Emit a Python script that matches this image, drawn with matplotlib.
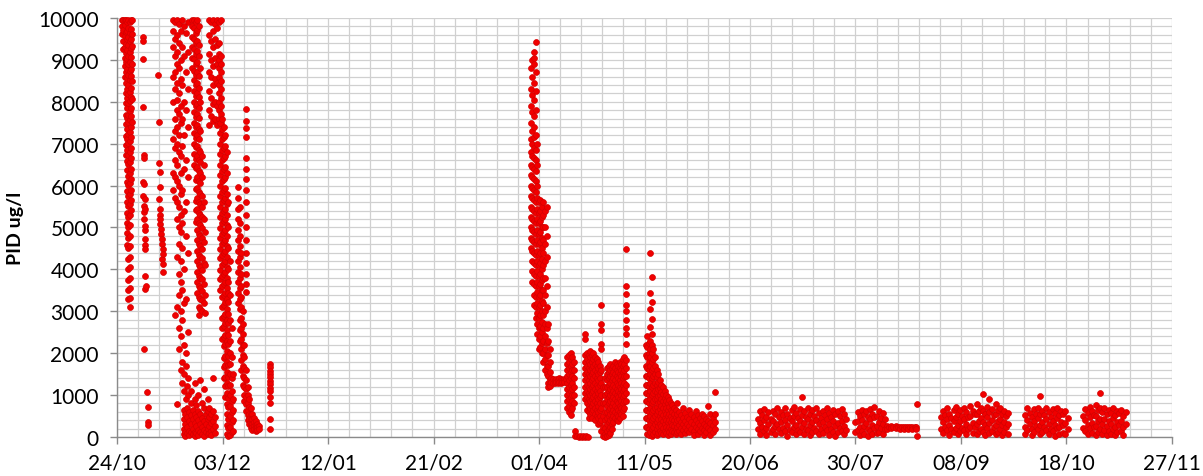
import datetime as dt

import matplotlib
matplotlib.use("Agg")
import matplotlib.pyplot as plt
import matplotlib.dates as mdates
from matplotlib.ticker import MultipleLocator, FuncFormatter

# ---------------------------------------------------------------------------
# PID readings (ug/l).  Each burst maps a day offset from the first
# monitoring day to the readings logged around that time.
# ---------------------------------------------------------------------------
START = dt.datetime(2011, 10, 24)
SPAN_DAYS = 400

burst_oct = {
    1.9: [9950, 9800, 9620],
    2.4: [9960, 9710, 9440, 9260],
    2.9: [9940, 9830, 9560, 9310, 9040, 8860, 8590],
    3.3: [9950, 9660, 9390, 9160, 8940, 8710, 8440, 8210, 7960, 7690, 7460, 7190, 6960, 6720],
    3.8: [9900, 9690, 9510, 9240, 9010, 8790, 8560, 8310, 8090, 7840, 7610, 7340, 7110, 6860,
          6590, 6360, 6090, 5860, 5610, 5340, 5110, 4860, 4590],
    4.3: [9950, 9760, 9540, 9360, 9090, 8910, 8640, 8410, 8190, 7960, 7690, 7510, 7240, 7010,
          6740, 6510, 6240, 6010, 5740, 5510, 5240, 5010, 4740, 4510, 4240, 4010, 3740, 3510, 3290],
    4.8: [9900, 9640, 9460, 9190, 8960, 8740, 8510, 8240, 8010, 7790, 7560, 7290, 7060, 6790,
          6560, 6290, 6060, 5790, 5560, 5290, 5060, 4790, 4560, 4290, 4060, 3790, 3560, 3310, 3100],
    5.3: [9950, 9740, 9510, 9290, 9060, 8790, 8610, 8340, 8110, 7840, 7660, 7390, 7160, 6890,
          6660, 6390, 6160, 5890, 5660, 5410],
    5.8: [9940, 9610, 9340, 8910, 8490, 8060, 7510],
}

burst_nov_sparse = {
    9.7: [9020, 6090],
    9.8: [9540, 5760],
    9.9: [9460, 7870],
    10.1: [6730, 6670, 5520, 5360],
    10.3: [6040, 5200, 2100],
    10.5: [5680, 5450, 4950, 4570],
    10.7: [5040, 4730, 4490, 3850, 3530],
    10.9: [3610],
    11.5: [1070],
    11.7: [710],
    11.9: [350, 290],
    15.6: [8640],
    15.8: [7520],
    16.0: [6550, 5680],
    16.1: [6320, 5300],
    16.2: [5960, 5080],
    16.4: [5440, 5200],
    16.6: [4960, 4850],
    17.0: [4730],
    17.2: [4600, 4250],
    17.3: [4490, 4360, 3930],
    17.4: [4130],
}

burst_nov_scatter = {
    21.3: [9950, 9700, 9300, 8600, 8000, 7100, 6300, 5900],
    22.0: [9900, 9500, 9100, 8700, 8300, 7600, 7300, 6900, 6600, 6200, 5700, 2900],
    22.7: [9960, 9600, 9200, 8900, 8450, 8050, 7800, 7400, 7000, 6500, 6100, 5600, 5200, 4300, 3100, 790],
    23.4: [9850, 9400, 8800, 8200, 7700, 7200, 6800, 6000, 5500, 5000, 4600, 3900, 3400, 2600, 2100],
    24.1: [9700, 9000, 8550, 7900, 7500, 6700, 6300, 5800, 5300, 4900, 4200, 3700, 3000, 2400, 1600],
    24.8: [9950, 9300, 8400, 7600, 6950, 5900, 5100, 4500, 3500, 2800, 1800, 1300],
    25.5: [9800, 9100, 8000, 7200, 6400, 5400, 4000, 3200, 2200, 1500, 1100],
    26.2: [9650, 8700, 7800, 6600, 5600, 4800, 3300, 2000, 1700, 900],
    26.9: [9900, 9200, 8300, 7400, 6200, 4400, 2500, 1400, 1000],
}

burst_nov_low = {
    25.2: [650, 420, 180, 60],
    25.9: [560, 300, 120, 20],
    26.6: [1220, 700, 480, 250, 90],
    27.3: [600, 380, 150, 40],
    28.0: [1100, 820, 520, 300, 110],
    28.7: [640, 420, 200, 60],
    29.4: [1300, 900, 560, 330, 130, 20],
    30.1: [760, 480, 260, 90],
    30.8: [1000, 620, 400, 170, 40],
    31.5: [1350, 560, 320, 120],
    32.2: [800, 450, 240, 60],
    32.9: [1150, 680, 380, 160, 30],
    33.6: [560, 300, 110],
    34.3: [900, 620, 420, 200, 60],
    35.0: [700, 480, 260, 100],
    35.7: [560, 330, 140, 40],
    36.4: [1400, 620, 380, 180],
    37.1: [480, 260, 90],
}

burst_nov_main = {
    28.6: [9950, 9800, 9550, 9300, 9050, 8800],
    29.2: [9960, 9750, 9490, 9260, 9010, 8740, 8510, 8260, 7990, 7760, 7490, 7260, 6990, 6760, 6490],
    29.8: [9900, 9640, 9410, 9140, 8910, 8640, 8410, 8140, 7910, 7640, 7410, 7140, 6910, 6640,
           6410, 6140, 5910, 5640, 5410, 5140],
    30.4: [9950, 9710, 9440, 9210, 8940, 8710, 8440, 8210, 7940, 7710, 7440, 7210, 6940, 6710,
           6440, 6210, 5940, 5710, 5440, 5210, 4940, 4710, 4440, 4210, 3940, 3710, 3440],
    31.0: [9800, 9350, 9090, 8610, 8340, 8110, 7840, 7610, 7340, 7110, 6840, 6610, 6340, 6110,
           5840, 5610, 5340, 5110, 4840, 4610, 4340, 4110, 3840, 3610, 3340, 3110, 2900],
    31.6: [8800, 8000, 7300, 6800, 6560, 6290, 6060, 5790, 5560, 5290, 5060, 4790, 4560, 4290,
           4060, 3790, 3560, 3290, 3060],
    32.2: [6700, 6200, 5760, 5490, 5260, 4990, 4760, 4490, 4260, 3990, 3760, 3490, 3260, 3000],
    32.8: [6500, 5600, 5200, 4650, 4150, 3650, 3200],
    33.4: [4900, 4100, 3400, 2950],
}

burst_dec_top = {
    34.8: [9950, 9600, 9150, 8700, 8250, 7800, 7450],
    35.6: [9900, 9450, 9000, 8600, 8100, 7650],
    36.4: [9960, 9700, 9300, 8850, 8400, 7950, 7550],
    37.2: [9850, 9500, 9050, 8550, 8000, 7600],
    38.0: [9950, 9750, 9350, 8900, 8450, 7900, 7450],
    38.8: [9900, 9400, 9150, 9000, 8800, 8600, 8400, 8200, 8000, 7800, 7600],
    39.5: [9950, 9100, 8900, 8700, 8500, 8300, 8100, 7900, 7700, 7500],
}

burst_dec_main = {
    39.2: [7500, 7260, 6990, 6760, 6490, 6260, 5990, 5760, 5490, 5260, 4990, 4760, 4490, 4260, 3990, 3760, 3500],
    39.8: [7600, 7340, 7110, 6840, 6610, 6340, 6110, 5840, 5610, 5340, 5110, 4840, 4610, 4340,
           4110, 3840, 3610, 3340, 3110, 2840, 2610, 2350],
    40.4: [7400, 7160, 6890, 6660, 6390, 6160, 5890, 5660, 5390, 5160, 4890, 4660, 4390, 4160,
           3890, 3660, 3390, 3160, 2890, 2660, 2390, 2160, 1890, 1660, 1400],
    41.0: [7200, 6940, 6710, 6440, 6210, 5940, 5710, 5440, 5210, 4940, 4710, 4440, 4210, 3940,
           3710, 3440, 3210, 2940, 2710, 2440, 2210, 1940, 1710, 1440, 1210, 950],
    41.6: [6800, 6300, 5800, 5560, 5290, 5060, 4790, 4560, 4290, 4060, 3790, 3560, 3290, 3060,
           2790, 2560, 2290, 2060, 1790, 1560, 1290, 1060, 790, 560, 290, 80],
    42.2: [5600, 5000, 4500, 4000, 3710, 3440, 3210, 2940, 2710, 2440, 2210, 1940, 1710, 1440,
           1210, 940, 710, 440, 210, 20],
    42.8: [4200, 3400, 2800, 2300, 2000, 1740, 1510, 1240, 1010, 740, 510, 240, 40],
    43.4: [2600, 1900, 1400, 1100, 850, 600, 350, 120],
    44.0: [1500, 900, 650, 400, 150],
}

burst_dec_column = {
    49.0: [7820, 7550, 7380, 7150, 6650, 6400, 6150, 5900, 5600, 5300, 5000, 4700, 4400,
           4150, 3900, 3650, 3450],
}

burst_dec_tail = {
    45.9: [5960, 5710, 5440, 5210, 4940, 4710, 4440, 4210, 3940, 3710, 3440, 3200],
    46.5: [5500, 5100, 4800, 4560, 4290, 4060, 3790, 3560, 3290, 3060, 2790, 2560, 2300],
    47.1: [4400, 3900, 3600, 3340, 3110, 2840, 2610, 2340, 2110, 1840, 1600],
    47.7: [3000, 2700, 2450, 2200, 1950, 1700, 1450, 1250],
    48.3: [2200, 1900, 1650, 1400, 1200, 1000, 850],
    48.9: [1600, 1350, 1150, 950, 780, 620],
    49.5: [1200, 1000, 820, 650, 520, 400],
    50.1: [900, 720, 560, 430, 320],
    50.7: [700, 540, 420, 310, 220],
    51.3: [560, 430, 320, 230, 160],
    51.9: [450, 350, 260, 180],
    52.5: [380, 290, 210, 150],
    53.1: [320, 240, 170],
    53.7: [260, 190],
    58.0: [1740, 1660, 1580, 1500, 1420, 1340, 1260, 1180, 1100, 960, 800, 430, 190],
}

burst_apr = {
    156.9: [8800, 8300, 7900, 7500, 7100, 6800, 6500, 6250, 6000, 5750, 5500, 5250, 5000, 4750, 4500],
    157.5: [9000, 8600, 8150, 7750, 7300, 7000, 6700, 6450, 6200, 5950, 5700, 5450, 5200, 4950,
            4700, 4450, 4200, 3950, 3700],
    158.1: [9190, 9050, 8900, 8450, 8050, 7650, 7400, 7150, 6900, 6650, 6400, 6150, 5900, 5650,
            5400, 5150, 4900, 4650, 4400, 4150, 3900, 3650, 3400, 3150],
    158.7: [9430, 8700, 8250, 7800, 7200, 6850, 6600, 6350, 6100, 5850, 5600, 5350, 5100, 4850,
            4600, 4350, 4100, 3850, 3600, 3350, 3100, 2850],
    159.3: [7000, 6500, 6000, 5700, 5450, 5200, 4950, 4700, 4450, 4200, 3950, 3700, 3450, 3200, 2950, 2700, 2450],
    159.9: [5600, 5350, 5100, 4850, 4600, 4350, 4100, 3850, 3600, 3350, 3100, 2850, 2600, 2350, 2100],
    160.5: [5650, 5400, 5150, 4900, 4650, 4400, 4150, 3900, 3650, 3400, 3150, 2900, 2650, 2400, 2150],
    161.1: [5500, 5250, 5000, 4750, 4500, 4250, 4000, 3750, 3500, 3250, 3000, 2750, 2500, 2250, 2000],
    161.7: [5600, 5300, 5000, 4700, 4400, 4100, 3800, 3500, 3200, 2900, 2600, 2300, 2000, 1800],
    162.3: [5400, 5000, 4600, 4200, 3800, 3400, 3000, 2700, 2400, 2100, 1850, 1600],
    162.9: [5500, 4800, 4300, 3600, 3100, 2600, 2250, 1950, 1700, 1500],
    163.5: [2700, 2300, 1950, 1700, 1450, 1300, 1200],
    164.1: [2100, 1800, 1550, 1380, 1280, 1220],
    164.7: [1400, 1320], 165.3: [1380, 1300], 165.9: [1360, 1290], 166.5: [1390, 1310],
    167.1: [1370, 1300], 167.7: [1400, 1320], 168.3: [1380, 1300], 168.9: [1370, 1310],
    169.5: [1390, 1320], 170.1: [1380],
    170.8: [1900, 1750, 1600, 1450, 1300, 1150, 1000, 850, 700],
    171.4: [1950, 1800, 1650, 1500, 1350, 1200, 1050, 900, 750, 600],
    172.0: [2000, 1850, 1700, 1550, 1400, 1250, 1100, 950, 800, 650, 520],
    172.6: [1900, 1750, 1600, 1450, 1300, 1150, 1000, 850, 700],
    173.2: [1800, 1600, 1400, 1200, 1000, 800],
    173.8: [150, 30], 174.4: [20], 175.0: [10], 175.6: [15], 176.2: [10],
    176.8: [20], 177.4: [10], 178.0: [15], 178.6: [10],
}

burst_apr_late = {
    177.6: [2460, 2350, 1950, 1800, 1650, 1500, 1350, 1200, 1050, 900],
    178.2: [2000, 1850, 1700, 1550, 1400, 1250, 1100, 950, 800, 650],
    178.8: [1950, 1800, 1650, 1500, 1350, 1200, 1050, 900, 750, 600, 450],
    179.4: [2050, 1900, 1750, 1600, 1450, 1300, 1150, 1000, 850, 700, 550],
    180.0: [1950, 1800, 1650, 1500, 1350, 1200, 1050, 900, 750, 600, 450],
    180.6: [2000, 1850, 1700, 1550, 1400, 1250, 1100, 950, 800, 650],
    181.2: [1900, 1750, 1600, 1450, 1300, 1150, 1000, 850, 700, 550, 400],
    181.8: [1850, 1700, 1550, 1400, 1250, 1100, 950, 800, 650, 500],
    182.4: [1800, 1650, 1500, 1350, 1200, 1050, 900, 750, 600, 450, 300],
    183.0: [1700, 1550, 1400, 1250, 1100, 950, 800, 650, 500, 350],
    183.6: [3150, 2700, 2550, 2230, 2100, 1600, 1300, 1000, 700, 400, 150],
    184.2: [1200, 800, 500, 250, 30],
    185.2: [1400, 1200, 1000, 800, 600, 400, 220, 80, 10],
    185.8: [1650, 1500, 1350, 1200, 1050, 900, 750, 600, 450, 300, 150, 20],
    186.4: [1700, 1550, 1400, 1250, 1100, 950, 800, 650, 500, 350, 200, 50],
    187.0: [1750, 1600, 1450, 1300, 1150, 1000, 850, 700, 550, 400, 250, 100],
    187.6: [1650, 1500, 1350, 1200, 1050, 900, 750, 600, 450, 300, 180],
    188.2: [1700, 1550, 1400, 1250, 1100, 950, 800, 650, 500, 350],
    188.8: [1800, 1650, 1500, 1350, 1200, 1050, 900, 750, 600, 450],
    189.4: [1750, 1600, 1450, 1300, 1150, 1000, 850, 700, 550, 400],
    190.0: [1700, 1550, 1400, 1250, 1100, 950, 800, 650, 500, 380],
    190.6: [1800, 1650, 1500, 1350, 1200, 1050, 900, 750, 600, 450],
    191.2: [1750, 1600, 1450, 1300, 1150, 1000, 850, 700, 550],
    191.8: [1850, 1700, 1550, 1400, 1250, 1100, 950, 800, 650, 500],
    192.4: [1900, 1750, 1600, 1450, 1300, 1150, 1000, 850, 700],
    193.0: [4490, 3610, 3420, 3150, 3000, 2800, 2600, 2460, 2230, 1840, 1650, 1450, 1250, 1050, 850],
}

burst_may = {
    200.4: [2200, 1950, 1700, 1450, 1250, 1050, 850, 650, 450, 250],
    201.0: [2400, 2150, 1900, 1650, 1450, 1250, 1050, 850, 650, 450, 250, 80],
    201.6: [2250, 2000, 1800, 1600, 1400, 1200, 1000, 800, 600, 400, 200, 50],
    202.2: [4390, 3440, 3055, 2625, 2300, 2100, 1900, 1700, 1500, 1300, 1100, 900, 700, 500, 300, 120],
    202.8: [3810, 3230, 2816, 2460, 2200, 2000, 1800, 1600, 1400, 1200, 1000, 800, 600, 400, 200, 30],
    203.4: [2100, 1850, 1650, 1450, 1250, 1050, 850, 650, 450, 250, 80],
    204.0: [1900, 1700, 1500, 1300, 1100, 900, 700, 500, 300, 120],
    204.6: [1600, 1420, 1250, 1080, 900, 720, 540, 360, 180, 40],
    205.2: [1500, 1320, 1150, 980, 800, 620, 440, 260, 100],
    205.8: [1350, 1180, 1000, 830, 660, 490, 320, 150],
    206.4: [1250, 1080, 900, 740, 580, 420, 260, 100],
    207.0: [1200, 1020, 850, 690, 530, 370, 210, 60],
    207.6: [1100, 940, 780, 620, 460, 300, 150],
    208.2: [1000, 850, 700, 550, 400, 250, 100],
    208.8: [950, 800, 650, 500, 350, 200, 50],
    209.4: [880, 720, 560, 400, 250, 110],
    210.0: [800, 650, 500, 350, 200, 60],
    210.6: [760, 600, 440, 290, 150],
    211.2: [700, 550, 400, 260, 120],
    211.8: [650, 480, 330, 190, 60],
    212.4: [820, 560, 400, 250, 110],
    213.0: [600, 430, 280, 140],
    213.8: [520, 360, 220, 80],
    214.6: [700, 450, 300, 160],
    215.4: [580, 380, 230, 90],
    216.2: [480, 320, 170],
    217.0: [650, 420, 260, 110],
    217.8: [540, 360, 200],
    218.6: [470, 300, 150, 40],
    219.4: [610, 400, 240],
    220.2: [520, 330, 180, 60],
    221.0: [450, 280, 140],
    221.8: [560, 370, 210],
    222.6: [490, 300, 160, 50],
    223.4: [430, 260, 120],
    224.2: [740, 380, 220],
    225.0: [540, 330, 160, 40],
    225.8: [460, 280, 130],
    226.6: [1070, 560, 350, 190],
}

burst_jun_jul = {
    243.0: [430, 190], 243.8: [610, 330, 80], 244.6: [520, 240],
    245.4: [660, 400, 150], 246.2: [480, 210, 40], 247.0: [590, 320],
    247.8: [420, 130], 248.6: [630, 380, 190], 249.4: [540, 260, 60],
    250.2: [700, 310], 251.0: [470, 180], 251.8: [600, 350, 90],
    252.6: [520, 220], 253.4: [680, 410, 140], 254.2: [560, 280, 30],
    255.0: [450, 170], 255.8: [640, 370, 110], 256.6: [720, 500, 230],
    257.4: [580, 290, 60], 258.2: [450, 160], 259.0: [660, 390, 120],
    259.6: [950, 530, 250], 260.4: [610, 340, 70], 261.2: [480, 200],
    262.0: [700, 430, 160], 262.8: [560, 280, 40], 263.6: [640, 360, 120],
    264.4: [500, 220], 265.2: [680, 410, 150], 266.0: [570, 300, 60],
    266.8: [460, 180], 267.6: [620, 350, 100], 268.4: [530, 250],
    269.2: [690, 420, 170], 270.0: [580, 300, 50], 270.8: [470, 200],
    271.6: [650, 380, 130], 272.4: [540, 260, 30], 273.2: [610, 340, 110],
    274.0: [500, 220], 274.8: [660, 390, 140], 275.6: [550, 270, 60],
    276.4: [430, 170],
    280.0: [360, 120], 280.8: [600, 380, 170], 281.6: [490, 230, 40],
    282.4: [640, 410, 140], 283.2: [540, 270, 80], 284.0: [610, 340],
    284.8: [470, 200, 30], 285.6: [670, 430, 150], 286.4: [560, 290, 60],
    287.2: [720, 480, 220], 288.0: [510, 260, 90], 288.8: [630, 350, 130],
    289.6: [460, 210], 290.4: [570, 300, 80], 291.2: [420, 190],
    292.0: [260, 200], 292.8: [250], 293.6: [260, 210], 294.4: [240], 295.2: [255, 205],
    296.0: [245], 296.8: [250, 200], 297.6: [240], 298.4: [250, 200], 299.2: [235],
    300.0: [245, 195], 300.8: [235], 301.6: [240, 195], 302.4: [230], 303.0: [235, 190],
    303.3: [790, 20],
}

burst_aug_sep = {
    312.4: [480, 200], 313.2: [620, 350, 100], 314.0: [530, 240],
    314.8: [690, 420, 170], 315.6: [560, 280, 50], 316.4: [450, 180],
    317.2: [640, 370, 120], 318.0: [720, 480, 220], 318.8: [560, 290, 60],
    319.6: [650, 380, 140], 320.4: [500, 210], 321.2: [680, 420, 160],
    322.0: [590, 300, 70], 322.8: [470, 190], 323.6: [730, 500, 240],
    324.4: [610, 330, 90], 325.2: [540, 250], 326.0: [790, 560, 300, 80],
    326.8: [630, 380, 140], 327.6: [700, 450, 200], 328.4: [1026, 620, 350, 110],
    329.2: [560, 280, 40], 330.0: [720, 470, 210], 330.8: [907, 590, 330, 100],
    331.6: [660, 400, 150], 332.4: [520, 240], 333.2: [790, 540, 280, 70],
    334.0: [640, 370, 130], 334.8: [700, 440, 190], 335.6: [560, 290, 50],
    336.4: [620, 350, 110], 337.2: [510, 230], 338.0: [580, 320, 80],
}

burst_oct_late = {
    344.4: [520, 250, 60], 345.2: [690, 410, 160], 346.0: [580, 300],
    346.8: [480, 200, 40], 347.6: [660, 380, 130], 348.4: [560, 270],
    349.2: [700, 450, 190], 350.0: [985, 540, 280, 70], 350.8: [620, 350, 120],
    351.6: [530, 240], 352.4: [680, 420, 170], 353.2: [590, 310, 60],
    354.0: [480, 200], 354.8: [660, 390, 140], 355.6: [570, 280, 30],
    356.4: [700, 460, 210], 357.2: [520, 250, 80], 358.0: [630, 350],
    358.8: [560, 290, 100], 359.6: [610, 330, 60], 360.4: [460, 190],
    366.4: [500, 220], 367.2: [660, 400, 150], 368.0: [570, 290, 70],
    368.8: [720, 470, 210], 369.6: [610, 340, 100], 370.4: [530, 250],
    371.2: [760, 500, 260, 50], 372.0: [640, 370, 130], 372.8: [1050, 700, 430, 180],
    373.6: [590, 320, 60], 374.4: [680, 420, 170], 375.2: [550, 270, 40],
    376.0: [650, 380, 140], 376.8: [580, 300, 80], 377.6: [700, 450, 200],
    378.4: [520, 240, 50], 379.2: [630, 360, 120], 380.0: [570, 290],
    380.8: [640, 380, 150], 381.6: [510, 230, 40], 382.4: [590, 320],
}

bursts = [
    burst_oct, burst_nov_sparse, burst_nov_scatter, burst_nov_low, burst_nov_main,
    burst_dec_top, burst_dec_main, burst_dec_column, burst_dec_tail, burst_apr,
    burst_apr_late, burst_may, burst_jun_jul, burst_aug_sep, burst_oct_late,
]

Y_LABEL = "PID ug/l"

# ---------------------------------------------------------------------------
t0 = mdates.date2num(START)
xs, ys = [], []
for burst in bursts:
    for day, readings in burst.items():
        for r in readings:
            xs.append(t0 + day)
            ys.append(r)

plt.rcParams["font.family"] = ["Lato", "DejaVu Sans"]

fig = plt.figure(figsize=(12.03, 4.77), dpi=100)
ax = fig.add_axes([0.0973, 0.0818, 0.8769, 0.8784])

ax.scatter(xs, ys, s=18, color="#f00000", edgecolors="#d40000",
           linewidths=0.5, zorder=3, clip_on=False)

ax.set_xlim(t0, t0 + SPAN_DAYS)
ax.set_ylim(0, 10000)

ax.xaxis.set_major_locator(MultipleLocator(40, offset=t0 % 40))
ax.xaxis.set_minor_locator(MultipleLocator(8, offset=t0 % 8))
ax.xaxis.set_major_formatter(mdates.DateFormatter("%d/%m"))
ax.yaxis.set_major_locator(MultipleLocator(1000))
ax.yaxis.set_minor_locator(MultipleLocator(200))
ax.yaxis.set_major_formatter(FuncFormatter(lambda v, _: f"{v:.0f}"))

ax.grid(which="both", color="#d0d0d0", linewidth=0.9)
ax.set_axisbelow(True)

for side in ("top", "right"):
    ax.spines[side].set_visible(False)
for side in ("left", "bottom"):
    ax.spines[side].set_color("#8a8a8a")
    ax.spines[side].set_linewidth(1.0)

ax.tick_params(which="major", direction="out", length=5, width=1, color="#8a8a8a",
               labelsize=15, labelcolor="black")
ax.tick_params(axis="y", which="major", pad=8)
ax.tick_params(axis="x", which="major", pad=6)
ax.tick_params(which="minor", length=0)

ax.set_ylabel(Y_LABEL, fontsize=14, fontweight="bold", labelpad=10)

fig.savefig("out.png", dpi=100)
